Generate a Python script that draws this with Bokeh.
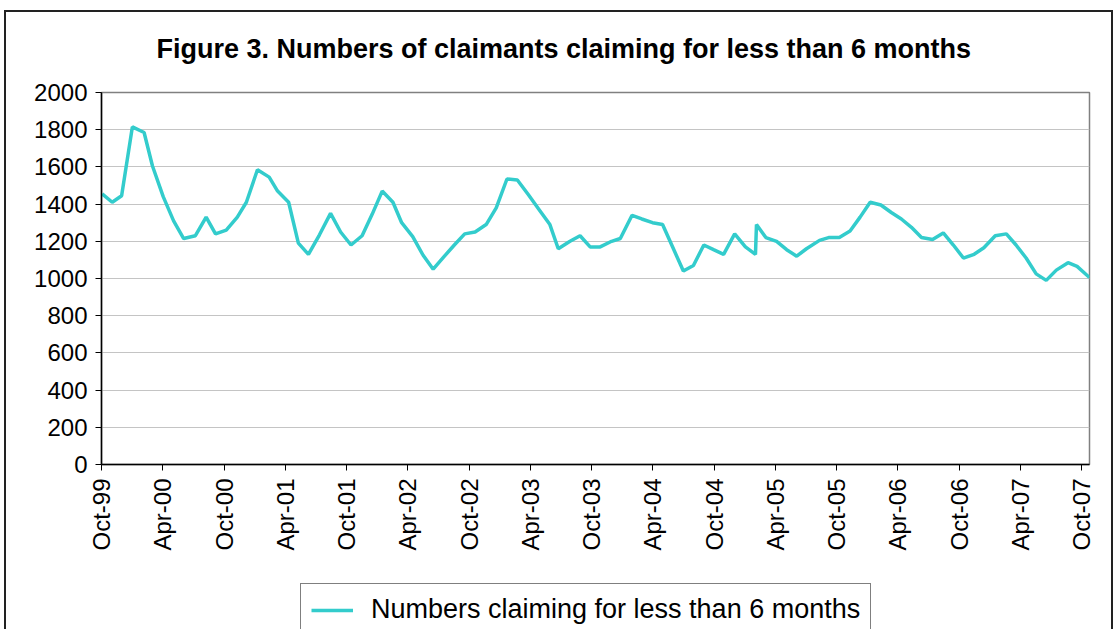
import math
from datetime import datetime
import pandas as pd
from bokeh.plotting import figure
from bokeh.layouts import column
from bokeh.models import (Range1d, FixedTicker, DatetimeTickFormatter, Legend,
                          LegendItem, Label, ColumnDataSource)
from bokeh.embed import file_html
from bokeh.resources import INLINE

title_text = "Figure 3.  Numbers of claimants claiming for less than 6 months"
series_name = "Numbers claiming for less than 6 months"

dates = [
    "1999-10-03", "1999-11-02", "1999-11-30", "2000-01-01", "2000-02-05", "2000-03-01",
    "2000-04-02", "2000-05-03", "2000-06-02", "2000-07-07", "2000-08-08", "2000-09-05",
    "2000-10-07", "2000-11-09", "2000-12-06", "2001-01-08", "2001-02-12", "2001-03-09",
    "2001-04-11", "2001-05-10", "2001-06-09", "2001-07-12", "2001-08-14", "2001-09-13",
    "2001-10-14", "2001-11-16", "2001-12-16", "2002-01-15", "2002-02-16", "2002-03-14",
    "2002-04-16", "2002-05-17", "2002-06-16", "2002-07-17", "2002-08-18", "2002-09-18",
    "2002-10-19", "2002-11-21", "2002-12-21", "2003-01-22", "2003-02-22", "2003-03-27",
    "2003-04-28", "2003-05-30", "2003-06-24", "2003-07-29", "2003-08-28", "2003-09-27",
    "2003-10-27", "2003-11-30", "2003-12-26", "2004-01-30", "2004-02-28", "2004-03-31",
    "2004-04-30", "2004-05-31", "2004-07-01", "2004-07-31", "2004-08-31", "2004-09-29",
    "2004-10-29", "2004-12-01", "2005-01-02", "2005-02-01", "2005-02-04", "2005-03-04",
    "2005-04-05", "2005-05-05", "2005-06-04", "2005-07-03", "2005-08-11", "2005-09-07",
    "2005-10-09", "2005-11-10", "2005-12-10", "2006-01-09", "2006-02-10", "2006-03-13",
    "2006-04-12", "2006-05-12", "2006-06-11", "2006-07-14", "2006-08-15", "2006-09-14",
    "2006-10-14", "2006-11-15", "2006-12-14", "2007-01-17", "2007-02-19", "2007-03-20",
    "2007-04-19", "2007-05-19", "2007-06-18", "2007-07-18", "2007-08-22", "2007-09-18",
    "2007-10-25",
]
values = [
    1455, 1410, 1445, 1815, 1785, 1605,
    1440, 1310, 1215, 1230, 1330, 1240,
    1260, 1330, 1410, 1585, 1545, 1470,
    1410, 1190, 1130, 1235, 1350, 1250,
    1180, 1230, 1345, 1470, 1410, 1300,
    1225, 1125, 1050, 1115, 1180, 1240,
    1250, 1290, 1380, 1535, 1530, 1450,
    1370, 1290, 1160, 1200, 1230, 1170,
    1170, 1200, 1215, 1340, 1320, 1300,
    1290, 1165, 1040, 1070, 1180, 1155,
    1130, 1240, 1170, 1130, 1290, 1220,
    1200, 1155, 1120, 1160, 1205, 1220,
    1220, 1255, 1330, 1410, 1395, 1355,
    1320, 1275, 1220, 1210, 1245, 1180,
    1110, 1130, 1165, 1230, 1240, 1180,
    1110, 1025, 990, 1045, 1085, 1065,
    1005,
]
y_ticks = [0, 200, 400, 600, 800, 1000, 1200, 1400, 1600, 1800, 2000]
tick_dates = pd.date_range("1999-10-01", "2007-10-01", freq="6MS")

LINE_COLOR = "#33CCCC"
FONT = "Liberation Sans"
W = 1105

src = ColumnDataSource(dict(x=pd.to_datetime(dates), y=values))


def blank_fig(h):
    f = figure(width=W, height=h, output_backend="svg", toolbar_location=None,
               x_axis_location=None, y_axis_location=None,
               x_range=Range1d(0, 1), y_range=Range1d(0, 1),
               min_border_left=0, min_border_right=0,
               min_border_top=0, min_border_bottom=0)
    f.xgrid.visible = False
    f.ygrid.visible = False
    f.outline_line_color = None
    f.background_fill_color = "white"
    f.border_fill_color = "white"
    return f


# ---- title strip
tf = blank_fig(68)
tf.add_layout(Label(x=466, y=32, x_units="screen", y_units="screen",
                    text=title_text, text_align="center",
                    text_baseline="alphabetic", text_font=FONT,
                    text_font_size="27px", text_font_style="bold",
                    text_color="black"))

# ---- main chart
p = figure(width=W, height=495, x_axis_type="datetime",
           output_backend="svg", toolbar_location=None,
           x_range=Range1d(datetime(1999, 10, 1), datetime(2007, 10, 25)),
           y_range=Range1d(0, 2000),
           min_border_left=95, min_border_right=22,
           min_border_top=12, min_border_bottom=111)
p.background_fill_color = "white"
p.border_fill_color = "white"
p.outline_line_color = "#808080"
p.outline_line_width = 1.5

p.line("x", "y", source=src, line_color=LINE_COLOR, line_width=3.5)

p.yaxis.ticker = FixedTicker(ticks=y_ticks)
p.xaxis.ticker = FixedTicker(ticks=(tick_dates.astype("int64") // 10**6).tolist())
fmt = "%b-%y"
p.xaxis.formatter = DatetimeTickFormatter(
    milliseconds=fmt, seconds=fmt, minsec=fmt, minutes=fmt, hourmin=fmt,
    hours=fmt, days=fmt, months=fmt, years=fmt)
p.xaxis.major_label_orientation = math.pi / 2
for ax in (p.xaxis, p.yaxis):
    ax.major_label_text_font = FONT
    ax.major_label_text_font_size = "24px"
    ax.major_label_text_color = "black"
    ax.axis_line_color = "black"
    ax.axis_line_width = 1.5
    ax.major_tick_line_color = "black"
    ax.major_tick_out = 6
    ax.major_tick_in = 0
    ax.minor_tick_out = 0
    ax.minor_tick_in = 0
    ax.major_label_standoff = 8

p.xgrid.visible = False
p.ygrid.grid_line_color = "#c4c4c4"
p.ygrid.grid_line_width = 1

# ---- legend strip (the series line sits outside this strip's view; only its key shows)
lf = blank_fig(54)
sample = lf.line("x", "y", source=src, line_color=LINE_COLOR, line_width=3.5)
legend = Legend(items=[LegendItem(label=series_name, renderers=[sample])],
                location=(199, -7), orientation="vertical",
                label_text_font=FONT, label_text_font_size="27px",
                label_text_color="black",
                glyph_width=42, glyph_height=30, label_height=30,
                label_standoff=18, padding=10, margin=0, spacing=0,
                border_line_color="black", border_line_width=1,
                background_fill_color="white", background_fill_alpha=1)
lf.add_layout(legend, "center")

layout = column(tf, p, lf, spacing=0,
                styles={"margin-left": "4px", "margin-top": "10px",
                        "border-top": "2px solid #222222",
                        "border-left": "2px solid #222222",
                        "border-right": "2px solid #222222"})

open("out.html", "w").write(file_html(layout, INLINE))
